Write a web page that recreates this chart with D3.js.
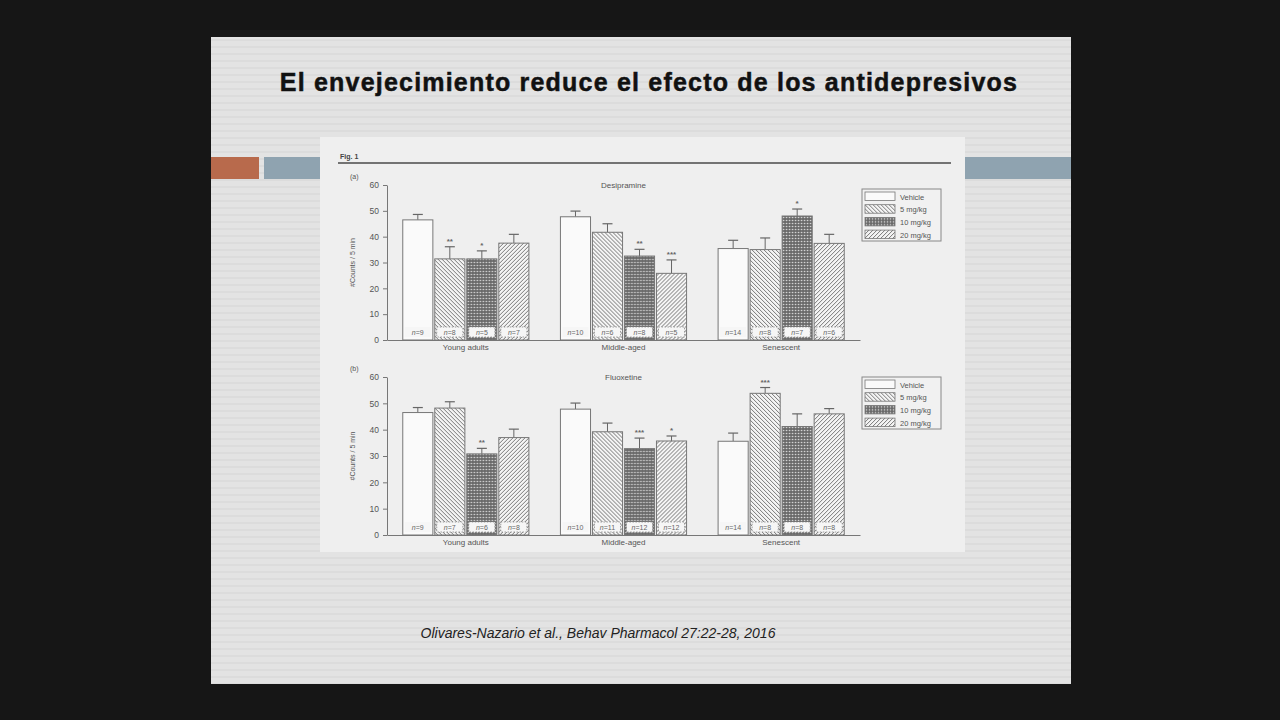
<!DOCTYPE html>
<html>
<head>
<meta charset="utf-8">
<script src="https://cdn.jsdelivr.net/npm/d3@7"></script>
<style>
  body { margin: 0; background: #161616; }
  svg { display: block; font-family: "Liberation Sans", Arial, sans-serif; }
</style>
</head>
<body>
<svg id="chart" width="1280" height="720"></svg>
<script>
// Datos
const groups = ["Young adults", "Middle-aged", "Senescent"];
const doses = ["Vehicle", "5 mg/kg", "10 mg/kg", "20 mg/kg"];

// (a) Desipramine: media y error (SEM) por grupo, en orden de dosis
const desiMeans = [[46.5, 31.4, 31.4, 37.5], [47.7, 41.7, 32.5, 25.8], [35.4, 35.0, 48.0, 37.4]];
const desiErr   = [[2.1, 4.7, 3.1, 3.4], [2.2, 3.3, 2.6, 5.2], [3.2, 4.5, 2.7, 3.5]];
const desiN     = [[9, 8, 5, 7], [10, 6, 8, 5], [14, 8, 7, 6]];
const desiStars = [["", "**", "*", ""], ["", "", "**", "***"], ["", "", "*", ""]];

// (b) Fluoxetine
const fluoMeans = [[46.5, 48.2, 30.8, 37.0], [47.8, 39.2, 32.8, 35.7], [35.6, 53.8, 41.2, 46.0]];
const fluoErr   = [[1.9, 2.4, 2.1, 3.2], [2.3, 3.3, 4.0, 1.9], [3.1, 2.2, 4.8, 2.0]];
const fluoN     = [[9, 7, 6, 8], [10, 11, 12, 12], [14, 8, 8, 8]];
const fluoStars = [["", "", "**", ""], ["", "", "***", "*"], ["", "***", "", ""]];

const yTicks = [0, 10, 20, 30, 40, 50, 60];

const svg = d3.select("#chart");
const defs = svg.append("defs");

// rayas tenues de la diapositiva
const stripe = defs.append("pattern").attr("id", "stripes")
    .attr("patternUnits", "userSpaceOnUse").attr("width", 8).attr("height", 7);
stripe.append("rect").attr("width", 8).attr("height", 7).attr("fill", "#e3e3e3");
stripe.append("rect").attr("y", 4).attr("width", 8).attr("height", 2).attr("fill", "#dcdcdc");

// tramas de las barras
const back = defs.append("pattern").attr("id", "hatch5")
    .attr("patternUnits", "userSpaceOnUse").attr("width", 4).attr("height", 4);
back.append("rect").attr("width", 4).attr("height", 4).attr("fill", "#f4f4f4");
back.append("path").attr("d", "M-1,-1L5,5M3,-1L5,1M-1,3L1,5")
    .attr("stroke", "#6a6a6a").attr("stroke-width", 0.9);

const fwd = defs.append("pattern").attr("id", "hatch20")
    .attr("patternUnits", "userSpaceOnUse").attr("width", 4).attr("height", 4);
fwd.append("rect").attr("width", 4).attr("height", 4).attr("fill", "#f4f4f4");
fwd.append("path").attr("d", "M-1,5L5,-1M-1,1L1,-1M3,5L5,3")
    .attr("stroke", "#6a6a6a").attr("stroke-width", 0.9);

const check = defs.append("pattern").attr("id", "check10")
    .attr("patternUnits", "userSpaceOnUse").attr("width", 3).attr("height", 3);
check.append("rect").attr("width", 3).attr("height", 3).attr("fill", "#6a6a6a");
check.append("circle").attr("cx", 1.5).attr("cy", 1.5).attr("r", 0.8).attr("fill", "#ddd");

const fills = ["#fafafa", "url(#hatch5)", "url(#check10)", "url(#hatch20)"];

// diapositiva
svg.append("rect").attr("x", 211).attr("y", 37).attr("width", 860).attr("height", 647)
    .attr("fill", "url(#stripes)");

svg.append("text")
    .attr("x", 649).attr("y", 91)
    .attr("text-anchor", "middle")
    .style("font-size", "25px").style("font-weight", "bold")
    .style("letter-spacing", "1.2px")
    .attr("fill", "#111").attr("stroke", "#111").attr("stroke-width", 0.5)
    .text("El envejecimiento reduce el efecto de los antidepresivos");

// barras decorativas
svg.append("rect").attr("x", 211).attr("y", 157).attr("width", 48).attr("height", 22).attr("fill", "#b86a4c");
svg.append("rect").attr("x", 264).attr("y", 157).attr("width", 57).attr("height", 22).attr("fill", "#8fa3b0");
svg.append("rect").attr("x", 965).attr("y", 157).attr("width", 106).attr("height", 22).attr("fill", "#8fa3b0");

// fondo de la figura
svg.append("rect").attr("x", 320).attr("y", 137).attr("width", 645).attr("height", 415)
    .attr("fill", "#efefef");

svg.append("text").attr("x", 340).attr("y", 159)
    .style("font-size", "7px").style("font-weight", "bold").attr("fill", "#444")
    .text("Fig. 1");
svg.append("line").attr("x1", 338).attr("x2", 951).attr("y1", 163).attr("y2", 163)
    .attr("stroke", "#4a4a4a").attr("stroke-width", 1.5);

svg.append("text")
    .attr("x", 598).attr("y", 638)
    .attr("text-anchor", "middle")
    .style("font-size", "14px").style("font-style", "italic")
    .attr("fill", "#222")
    .text("Olivares-Nazario et al., Behav Pharmacol 27:22-28, 2016");

const x0 = d3.scaleBand().domain(groups).range([387, 860]).paddingInner(0.2).paddingOuter(0.1);
const x1 = d3.scaleBand().domain(doses).range([0, x0.bandwidth()]).paddingInner(0.06);

function panel(cfg) {
    const y = d3.scaleLinear().domain([0, 60]).range([cfg.y0, cfg.y60]);
    const g = svg.append("g");

    g.append("text").attr("x", 350).attr("y", cfg.y60 - 6)
        .style("font-size", "7px").attr("fill", "#555").text(cfg.tag);

    const yAxis = g.append("g").attr("transform", "translate(387,0)")
        .call(d3.axisLeft(y).tickValues(yTicks).tickSize(4).tickSizeOuter(0).tickPadding(4));
    yAxis.selectAll("path, line").attr("stroke", "#777");
    yAxis.selectAll("text").style("font-size", "8.5px").attr("fill", "#555");

    g.append("text")
        .attr("transform", `translate(355,${(cfg.y0 + cfg.y60) / 2}) rotate(-90)`)
        .attr("text-anchor", "middle")
        .style("font-size", "7px").attr("fill", "#555")
        .text("#Counts / 5 min");

    g.append("text").attr("x", x0("Middle-aged") + x0.bandwidth() / 2).attr("y", cfg.y60 + 3)
        .attr("text-anchor", "middle").style("font-size", "8px").attr("fill", "#555")
        .text(cfg.drug);

    const rows = groups.flatMap((grp, i) => doses.map((dose, j) => ({
        grp, dose, j,
        mean: cfg.means[i][j], err: cfg.err[i][j], n: cfg.n[i][j], star: cfg.stars[i][j]
    })));

    const bar = g.append("g").selectAll("g").data(rows).join("g")
        .attr("transform", d => `translate(${x0(d.grp) + x1(d.dose)},0)`);

    const bw = x1.bandwidth();

    // barras de error (solo hacia arriba)
    bar.append("line")
        .attr("x1", bw / 2).attr("x2", bw / 2)
        .attr("y1", d => y(d.mean)).attr("y2", d => y(d.mean + d.err))
        .attr("stroke", "#666").attr("stroke-width", 1);
    bar.append("line")
        .attr("x1", bw / 2 - 5).attr("x2", bw / 2 + 5)
        .attr("y1", d => y(d.mean + d.err)).attr("y2", d => y(d.mean + d.err))
        .attr("stroke", "#666").attr("stroke-width", 1.2);

    bar.append("rect")
        .attr("x", 0).attr("width", bw)
        .attr("y", d => y(d.mean)).attr("height", d => y(0) - y(d.mean))
        .attr("fill", d => fills[d.j])
        .attr("stroke", "#777").attr("stroke-width", 1);

    // etiqueta n dentro de la barra
    bar.append("rect")
        .attr("x", 2).attr("width", bw - 4)
        .attr("y", y(0) - 13).attr("height", 10)
        .attr("fill", "#f6f6f6")
        .attr("stroke", d => d.j === 0 ? "none" : "#888")
        .attr("stroke-dasharray", "1.5,1.5").attr("stroke-width", 0.8);
    bar.append("text")
        .attr("x", bw / 2).attr("y", y(0) - 5.3)
        .attr("text-anchor", "middle")
        .style("font-size", "7px").attr("fill", "#666")
        .html(d => `<tspan font-style="italic">n</tspan>=${d.n}`);

    bar.append("text")
        .attr("x", bw / 2).attr("y", d => y(d.mean + d.err) - 3)
        .attr("text-anchor", "middle")
        .style("font-size", "8px").style("font-weight", "bold").attr("fill", "#666")
        .text(d => d.star);

    // eje x con los grupos
    const xAxis = g.append("g").attr("transform", `translate(0,${cfg.y0})`)
        .call(d3.axisBottom(x0).tickSize(0).tickPadding(4));
    xAxis.select(".domain").attr("stroke", "#777");
    xAxis.selectAll("text").style("font-size", "8px").attr("fill", "#555");

    // leyenda
    const lg = g.append("g").attr("transform", `translate(862,${cfg.legendY})`);
    lg.append("rect").attr("width", 79).attr("height", 52)
        .attr("fill", "#f1f1f1").attr("stroke", "#888");
    const item = lg.selectAll("g").data(doses).join("g")
        .attr("transform", (d, i) => `translate(3,${3 + i * 12.7})`);
    item.append("rect").attr("width", 30).attr("height", 8.5)
        .attr("fill", (d, i) => fills[i]).attr("stroke", "#777").attr("stroke-width", 0.8);
    item.append("text").attr("x", 35).attr("y", 7.5)
        .style("font-size", "7.5px").attr("fill", "#555").text(d => d);
}

panel({ tag: "(a)", drug: "Desipramine", y0: 340, y60: 185, legendY: 189,
        means: desiMeans, err: desiErr, n: desiN, stars: desiStars });
panel({ tag: "(b)", drug: "Fluoxetine", y0: 535, y60: 377, legendY: 377,
        means: fluoMeans, err: fluoErr, n: fluoN, stars: fluoStars });
</script>
</body>
</html>
